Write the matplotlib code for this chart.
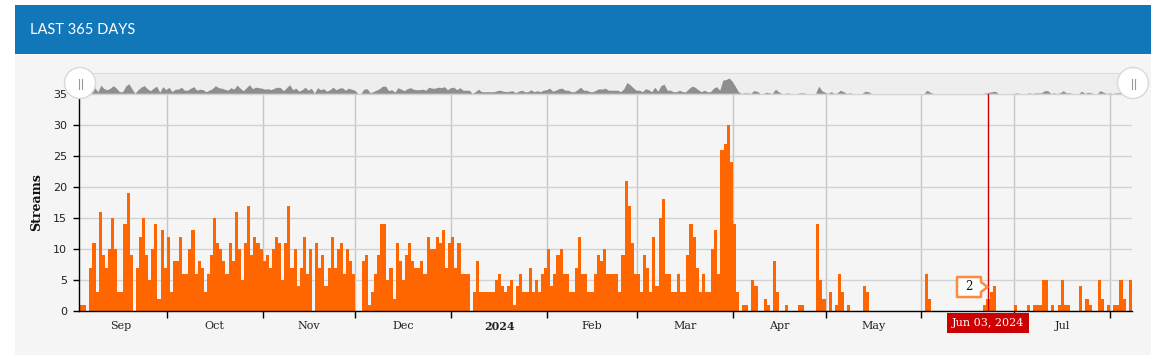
import matplotlib
matplotlib.use('Agg')
import matplotlib.pyplot as plt
import matplotlib.dates as mdates
import pandas as pd
from matplotlib.patches import Rectangle, Circle, Polygon
from matplotlib.ticker import FixedLocator, NullFormatter

# daily stream counts, 2023-09-03 .. 2024-08-07
start = '2023-09-03'
sep = [1, 1, 0, 7, 11, 3, 16, 9, 7, 10, 15, 10, 3, 3, 14, 19, 9, 0, 7, 12, 15, 9, 5, 10, 14, 2, 13, 7]
oct_ = [12, 3, 8, 8, 12, 6, 6, 10, 13, 6, 8, 7, 3, 6, 9, 15, 11, 10, 8, 6, 11, 8, 16, 10, 5, 11, 17, 9, 12, 11, 10]
nov = [8, 9, 7, 10, 12, 11, 5, 11, 17, 7, 10, 4, 7, 12, 6, 10, 0, 11, 7, 9, 4, 7, 12, 7, 10, 11, 6, 10, 8, 6]
dec = [0, 0, 8, 9, 1, 3, 6, 9, 14, 14, 5, 7, 2, 11, 8, 5, 9, 11, 8, 7, 7, 8, 6, 12, 10, 10, 12, 11, 13, 7, 11]
jan = [12, 7, 11, 6, 6, 6, 0, 3, 8, 3, 3, 3, 3, 3, 5, 6, 4, 3, 4, 5, 1, 4, 6, 3, 3, 7, 3, 5, 3, 6, 7]
feb = [10, 4, 6, 9, 10, 6, 6, 3, 3, 7, 12, 6, 6, 3, 3, 6, 9, 8, 10, 6, 6, 6, 6, 3, 9, 21, 17, 11, 6]
mar = [6, 3, 9, 7, 3, 12, 4, 15, 18, 6, 6, 3, 3, 6, 3, 3, 9, 14, 12, 7, 3, 6, 3, 3, 10, 13, 6, 26, 27, 30, 24]
apr = [14, 3, 0, 1, 1, 0, 5, 4, 0, 0, 2, 1, 0, 8, 3, 0, 0, 1, 0, 0, 0, 1, 1, 0, 0, 0, 0, 14, 5, 2]
may = [0, 3, 0, 1, 6, 3, 0, 1, 0, 0, 0, 0, 4, 3, 0, 0, 0, 0, 0, 0, 0, 0, 0, 0, 0, 0, 0, 0, 0, 0, 0]
jun = [0, 6, 2, 0, 0, 0, 0, 0, 0, 0, 0, 0, 0, 0, 0, 0, 0, 0, 0, 0, 1, 2, 3, 4, 0, 0, 0, 0, 0, 0]
jul = [1, 0, 0, 0, 1, 0, 1, 1, 1, 5, 5, 0, 1, 0, 1, 5, 1, 1, 0, 0, 0, 4, 0, 2, 1, 0, 0, 5, 2, 0, 1]
aug = [0, 1, 1, 5, 2, 0, 5]

values = sep + oct_ + nov + dec + jan + feb + mar + apr + may + jun + jul + aug
days = pd.date_range(start, periods=len(values), freq='D')

cursor_date = pd.Timestamp('2024-06-22 12:00')
cursor_label = 'Jun 03, 2024'
cursor_value = '2'

W, H = 1165, 355
ORANGE = '#ff6600'


def box(l, t, r, b):
    return [l / W, 1 - b / H, (r - l) / W, (b - t) / H]


fig = plt.figure(figsize=(W / 100, H / 100), dpi=100)
fig.patch.set_facecolor('white')

# panel + header
bg = fig.add_axes([0, 0, 1, 1], zorder=0)
bg.set_xlim(0, W)
bg.set_ylim(H, 0)
bg.axis('off')
bg.add_patch(Rectangle((15, 53), 1136, 302, fc='#f5f5f5', ec='none'))
bg.add_patch(Rectangle((15, 5), 1136, 49, fc='#1177b9', ec='none'))
bg.text(30, 30, 'LAST 365 DAYS', color='white', fontsize=10.5, family='Lato', va='center', ha='left')

x0 = mdates.date2num(days[0])
xlim = (x0 - 0.26, x0 + 340.06)

# main chart
ax = fig.add_axes(box(79.3, 94, 1132, 311), zorder=2)
ax.set_facecolor('none')
ax.bar(mdates.date2num(days), values, width=1.0, align='edge', color=ORANGE, linewidth=0, zorder=2)
ax.set_xlim(*xlim)
ax.set_ylim(0, 35)

ax.set_yticks(range(0, 36, 5))
ax.yaxis.grid(True, color='#d2d2d2', linewidth=1)
ax.xaxis.set_major_locator(mdates.MonthLocator())
ax.xaxis.set_major_formatter(NullFormatter())
ax.xaxis.grid(True, which='major', color='#c6c6c6', linewidth=1)
ax.set_axisbelow(True)

# month names sit mid-month; June's is hidden under the cursor date label
month_starts = pd.date_range('2023-09-01', '2024-08-01', freq='MS')
mids = [mdates.date2num(m) + m.days_in_month / 2 for m in month_starts]
names = ['2024' if m.month == 1 else ('' if m.month == 6 else m.strftime('%b')) for m in month_starts]
ax.xaxis.set_minor_locator(FixedLocator(mids))
ax.set_xticklabels(names, minor=True)
for t in ax.get_xticklabels(minor=True):
    t.set_family('DejaVu Serif')
    if t.get_text() == '2024':
        t.set_fontweight('bold')

ax.tick_params(axis='x', which='major', length=5, width=1, color='black', direction='out')
ax.tick_params(axis='x', which='minor', length=0, pad=7, labelsize=8, labelcolor='#222222')
ax.tick_params(axis='y', length=4.3, width=1, pad=4.5, labelsize=8, labelcolor='#222222')
for s in ['top', 'right']:
    ax.spines[s].set_visible(False)
for s in ['left', 'bottom']:
    ax.spines[s].set_color('black')
    ax.spines[s].set_linewidth(1)

ax.set_ylabel('Streams', family='DejaVu Serif', fontweight='bold', fontsize=9, color='#111111')
ax.yaxis.set_label_coords(-0.034, 0.5)

# cursor
ax.axvline(cursor_date, color='#cc0000', linewidth=1, zorder=4)
ax.text(cursor_date, -0.0576, cursor_label, transform=ax.get_xaxis_transform(),
        ha='center', va='center', color='white', fontsize=8, family='DejaVu Serif',
        bbox=dict(boxstyle='square,pad=0.45', fc='#cc0000', ec='none'), zorder=6, clip_on=False)

# navigator
nav = fig.add_axes(box(80, 73, 1133, 94), zorder=1)
nav.set_facecolor('#eeeeee')
nav.fill_between(mdates.date2num(days) + 0.5, values, color='#8e8e8e', linewidth=0)
nav.set_xlim(*xlim)
nav.set_ylim(-1.5, 40)
nav.set_xticks([])
nav.set_yticks([])
for s in nav.spines.values():
    s.set_visible(False)
nav.spines['top'].set_visible(True)
nav.spines['top'].set_color('#dddddd')

# overlay: grips + tooltip
fg = fig.add_axes([0, 0, 1, 1], zorder=10)
fg.set_xlim(0, W)
fg.set_ylim(H, 0)
fg.axis('off')
fg.patch.set_alpha(0)
for gx in (80, 1133):
    fg.add_patch(Circle((gx, 83), 15.5, fc='white', ec='#d8d8d8', lw=1))
    fg.plot([gx - 1.5, gx - 1.5], [79, 88.5], color='#9a9a9a', lw=0.8)
    fg.plot([gx + 1.5, gx + 1.5], [79, 88.5], color='#9a9a9a', lw=0.8)

cx = ax.transData.transform((mdates.date2num(cursor_date), 0))[0]
tip = Polygon([(cx - 31, 277), (cx - 7, 277), (cx - 7, 282), (cx - 0.5, 287),
               (cx - 7, 292), (cx - 7, 297), (cx - 31, 297)], closed=True,
              fc='white', ec='#ff8a3d', lw=1.8, joinstyle='round')
fg.add_patch(tip)
fg.text(cx - 19, 287, cursor_value, ha='center', va='center', fontsize=8.5,
        family='DejaVu Serif', color='#111111')

fig.savefig('out.png', dpi=100)
